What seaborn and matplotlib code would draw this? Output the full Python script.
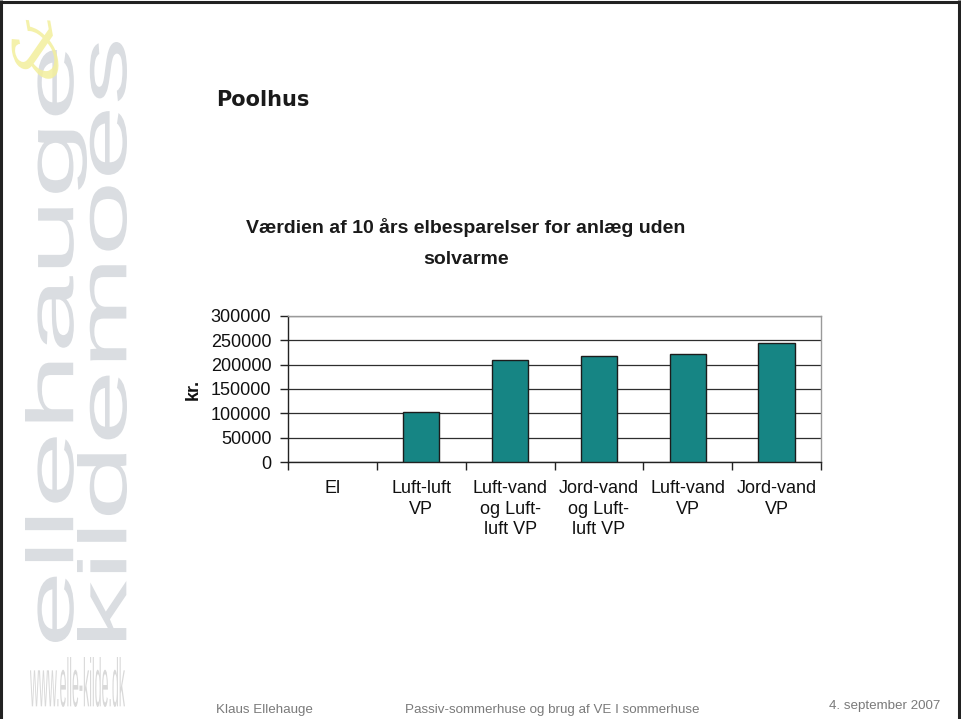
import matplotlib
matplotlib.use("Agg")
import matplotlib.pyplot as plt
import numpy as np
import pandas as pd
import seaborn as sns
from matplotlib.textpath import TextPath
from matplotlib.patches import PathPatch
from matplotlib.font_manager import FontProperties
from matplotlib.transforms import Affine2D

# --- data -------------------------------------------------------------
categories = [
    "El",
    "Luft-luft\nVP",
    "Luft-vand\nog Luft-\nluft VP",
    "Jord-vand\nog Luft-\nluft VP",
    "Luft-vand\nVP",
    "Jord-vand\nVP",
]
savings_kr = [0, 103000, 208500, 217500, 221000, 243500]
y_ticks = [0, 50000, 100000, 150000, 200000, 250000, 300000]

# --- style ------------------------------------------------------------
sns.set_theme(style="white")
plt.rcParams["font.family"] = ["Liberation Sans", "DejaVu Sans"]

W, H = 961, 719
fig = plt.figure(figsize=(W / 100, H / 100), dpi=100)
fig.patch.set_facecolor("white")

# background layer in pixel coordinates (y up)
bg = fig.add_axes([0, 0, 1, 1], zorder=-5)
bg.set_xlim(0, W)
bg.set_ylim(0, H)
bg.axis("off")


def stamp_vertical(ax, text, prop, y_start, y_end, x_top, x_bottom, color):
    """Draw text reading bottom-to-top, stretched into the given box."""
    path = TextPath((0, 0), text, size=1, prop=prop)
    ext = path.get_extents()
    s_along = (y_start - y_end) / ext.width
    s_across = (x_bottom - x_top) / ext.height
    tr = (Affine2D().translate(-ext.x0, -ext.y0)
          .scale(s_along, s_across)
          .rotate_deg(90)
          .translate(x_bottom, H - y_start))
    ax.add_patch(PathPatch(tr.transform_path(path), facecolor=color,
                           edgecolor="none", zorder=1))


def stamp_horizontal(ax, text, prop, x0, x1, y_top, y_bottom, color):
    path = TextPath((0, 0), text, size=1, prop=prop)
    ext = path.get_extents()
    tr = (Affine2D().translate(-ext.x0, -ext.y0)
          .scale((x1 - x0) / ext.width, (y_bottom - y_top) / ext.height)
          .translate(x0, H - y_bottom))
    ax.add_patch(PathPatch(tr.transform_path(path), facecolor=color,
                           edgecolor="none", zorder=1))


logo_font = FontProperties(family="Liberation Sans")
stamp_vertical(bg, "ellehauge", logo_font, 642, 50, 25, 87, "#dadde1")
stamp_vertical(bg, "kildemoes", logo_font, 640, 42, 77, 127, "#dadde1")
stamp_horizontal(bg, "www.elle-kilde.dk", FontProperties(family="Liberation Sans"),
                 30, 125, 657, 707, "#d9d9d9")

# yellow ampersand mark
amp = TextPath((0, 0), "&", size=1,
               prop=FontProperties(family="DejaVu Serif", style="italic"))
e = amp.get_extents()
tr = (Affine2D().translate(-e.x0 - e.width / 2, -e.y0 - e.height / 2)
      .scale(78, 58).rotate_deg(100).translate(34, H - 50))
bg.add_patch(PathPatch(tr.transform_path(amp), facecolor="#f3ef9c",
                       edgecolor="none", alpha=0.85, zorder=2))

# slide frame
frame_kw = dict(color="#222222", lw=2.2, solid_capstyle="butt")
bg.plot([1.1, 1.1], [0, H], **frame_kw)
bg.plot([0, W], [H - 2.2, H - 2.2], **frame_kw)
bg.plot([W - 2.2, W - 2.2], [0, H], **frame_kw)

# --- chart ------------------------------------------------------------
left, right, top, bottom = 288, 821, 315.7, 462.3
ax = fig.add_axes([left / W, 1 - bottom / H, (right - left) / W, (bottom - top) / H])

df = pd.DataFrame({"kategori": categories, "kr": savings_kr})
sns.barplot(data=df, x="kategori", y="kr", color="#168584", saturation=1,
            width=0.41, edgecolor="#1c1c1c", linewidth=1.0, ax=ax, zorder=3)
# a zero-height bar shows no outline
for bar in ax.patches:
    if bar.get_height() == 0:
        bar.set_edgecolor("none")

ax.set_xlim(-0.5, len(categories) - 0.5)
ax.set_ylim(0, 300000)
ax.set_yticks(y_ticks)
ax.set_yticklabels([str(v) for v in y_ticks])
ax.yaxis.grid(True, color="#2e2e2e", lw=0.9)
ax.xaxis.grid(False)
ax.set_axisbelow(True)

for side in ("left", "bottom"):
    ax.spines[side].set_color("#222222")
    ax.spines[side].set_linewidth(1.0)
for side in ("top", "right"):
    ax.spines[side].set_color("#9a9a9a")
    ax.spines[side].set_linewidth(1.0)

ax.set_xticks(np.arange(-0.5, len(categories), 1.0), minor=True)
ax.tick_params(axis="x", which="major", length=0, pad=13, labelsize=13,
               labelcolor="#111111")
ax.tick_params(axis="x", which="minor", length=6, width=1, color="#222222",
               direction="out", bottom=True)
ax.tick_params(axis="y", length=6, width=1, color="#222222", direction="out",
               left=True, pad=6, labelsize=13, labelcolor="#111111")
for lbl in ax.get_xticklabels():
    lbl.set_linespacing(1.25)
    lbl.set_verticalalignment("top")

ax.set_xlabel("")
ax.set_ylabel("")
fig.text(193 / W, 1 - 389 / H, "kr.", rotation=90, ha="center", va="center",
         fontsize=13, fontweight="bold", color="#111111")

# titles
fig.text(466 / W, 1 - 228 / H, "Værdien af 10 års elbesparelser for anlæg uden",
         ha="center", va="center", fontsize=14, fontweight="bold", color="#1a1a1a")
fig.text(466 / W, 1 - 259 / H, "solvarme", ha="center", va="center",
         fontsize=14, fontweight="bold", color="#1a1a1a")
fig.text(216 / W, 1 - 100 / H, "Poolhus", ha="left", va="center",
         fontsize=15, fontweight="bold", family="DejaVu Sans", color="#1a1a1a")

# footer
foot = dict(fontsize=9.6, color="#7a7a7a", va="center",
            family=["Liberation Sans Narrow", "Liberation Sans"])
fig.text(216 / W, 1 - 710 / H, "Klaus Ellehauge", ha="left", **foot)
fig.text(405 / W, 1 - 710 / H, "Passiv-sommerhuse og brug af VE I sommerhuse",
         ha="left", **foot)
fig.text(940 / W, 1 - 706 / H, "4. september 2007", ha="right", **foot)

fig.savefig("out.png", dpi=100, facecolor="white")
